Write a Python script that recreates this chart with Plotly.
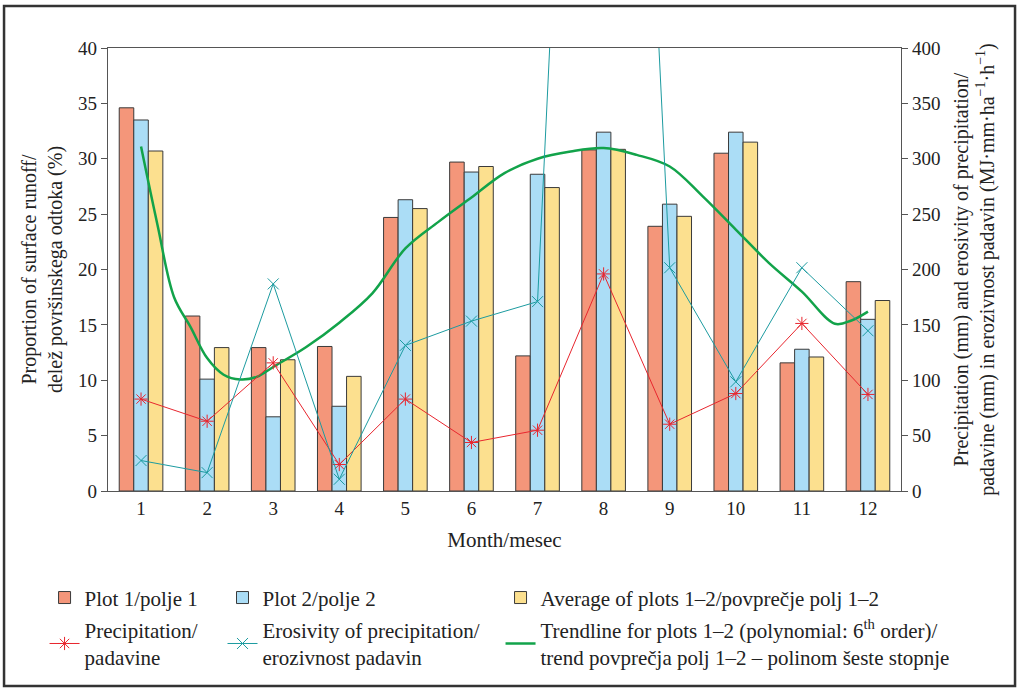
import plotly.graph_objects as go

months = list(range(1, 13))
plot1 = [34.6, 15.8, 12.95, 13.05, 24.7, 29.7, 12.2, 30.8, 23.9, 30.5, 11.57, 18.9]
plot2 = [33.5, 10.1, 6.7, 7.65, 26.3, 28.8, 28.6, 32.4, 25.9, 32.4, 12.8, 15.5]
average = [30.7, 12.95, 11.85, 10.35, 25.5, 29.3, 27.4, 30.85, 24.8, 31.5, 12.1, 17.2]
precipitation = [83, 63, 115.7, 23.9, 83, 43.8, 54.9, 196, 60.3, 88, 151.3, 87.2]
erosivity = [27.5, 16.6, 187, 10.6, 131.5, 153.4, 171, 1420, 201.6, 98.6, 201.6, 144.7]
trend_x = [1, 1.25, 1.5, 1.75, 2, 2.25, 2.5, 2.75, 3, 3.5, 4, 4.5, 5, 5.5, 6, 6.5, 7,
           7.5, 8, 8.5, 9, 9.5, 10, 10.5, 11, 11.5, 11.75, 12]
trend_y = [31.1, 24.0, 17.5, 14.8, 12.0, 10.5, 10.07, 10.3, 11.2, 13.0, 15.2, 17.85,
           21.9, 24.3, 26.5, 28.7, 30.0, 30.65, 30.96, 30.35, 29.3, 26.6, 23.6, 20.6,
           18.0, 15.1, 15.4, 16.2]

FONT = "Liberation Serif"
fig = go.Figure()
edge = dict(color="#3a3a3a", width=1)
fig.add_trace(go.Bar(x=months, y=plot1, name="Plot 1/polje 1", marker=dict(color="#F4967A", line=edge),
                     legend="legend", legendgroup="a"))
fig.add_trace(go.Bar(x=months, y=plot2, name="Plot 2/polje 2", marker=dict(color="#ABDDF6", line=edge),
                     legend="legend2", legendgroup="c"))
fig.add_trace(go.Bar(x=months, y=average, name="Average of plots 1–2/povprečje polj 1–2",
                     marker=dict(color="#FCE08F", line=edge), legend="legend3", legendgroup="e"))
fig.add_trace(go.Scatter(x=months, y=precipitation, yaxis="y2", mode="lines+markers",
                         name="Precipitation/<br>padavine",
                         line=dict(color="#E8262E", width=1),
                         marker=dict(symbol="asterisk-open", size=11, color="#E8262E", line=dict(width=1, color="#E8262E")),
                         legend="legend", legendgroup="b"))
fig.add_trace(go.Scatter(x=months, y=erosivity, yaxis="y2", mode="lines+markers",
                         name="Erosivity of precipitation/<br>erozivnost padavin",
                         line=dict(color="#1C9BA0", width=1),
                         marker=dict(symbol="x-thin-open", size=11, color="#1C9BA0", line=dict(width=1, color="#1C9BA0")),
                         legend="legend2", legendgroup="d"))
fig.add_trace(go.Scatter(x=trend_x, y=trend_y, mode="lines", line=dict(color="#12A34A", width=2.5, shape="spline"),
                         name="Trendline for plots 1–2 (polynomial: 6<sup>th</sup> order)/<br>trend povprečja polj 1–2 – polinom šeste stopnje",
                         legend="legend3", legendgroup="f"))

leg = dict(orientation="v", yanchor="top", xanchor="left", bgcolor="rgba(0,0,0,0)",
           font=dict(family=FONT, size=21, color="#222"), tracegroupgap=2, itemwidth=30)
fig.update_layout(
    width=1017, height=688,
    margin=dict(l=108, r=116, t=48, b=197, autoexpand=False),
    paper_bgcolor="white", plot_bgcolor="white",
    barmode="group", bargap=0.34, bargroupgap=0,
    font=dict(family=FONT, size=18, color="#222"),
    legend=dict(leg, x=-0.080, y=-0.195),
    legend2=dict(leg, x=0.1444, y=-0.195),
    legend3=dict(leg, x=0.495, y=-0.195),
    xaxis=dict(range=[0.5, 12.5], tickvals=months, showline=True, linecolor="#555", linewidth=1.2,
               mirror=True, ticks="", showgrid=False, zeroline=False,
               title=dict(text="Month/mesec", standoff=14, font=dict(family=FONT, size=21)),
               tickfont=dict(size=19)),
    yaxis=dict(range=[0, 40], dtick=5, showline=True, linecolor="#555", linewidth=1.2, ticks="outside",
               ticklen=6, tickcolor="#555", showgrid=False, zeroline=False, tickfont=dict(size=19),
               title=dict(text="Proportion of surface runoff/<br>delež površinskega odtoka (%)", standoff=10,
                          font=dict(family=FONT, size=20))),
    yaxis2=dict(range=[0, 400], dtick=50, overlaying="y", side="right", showline=True, linecolor="#555",
                linewidth=1.2, ticks="outside", ticklen=6, tickcolor="#555", showgrid=False, zeroline=False,
                tickfont=dict(size=19),
                title=dict(text="Precipitation (mm) and erosivity of precipitation/<br>padavine (mm) in erozivnost padavin (MJ·mm·ha<sup>−1</sup>·h<sup>−1</sup>)",
                           standoff=14, font=dict(family=FONT, size=20))),
    shapes=[dict(type="rect", xref="paper", yref="paper", x0=-0.1311, x1=1.1438, y0=-0.440, y1=1.0948,
                 line=dict(color="#333", width=2.5), layer="above")],
)
fig.write_html("out.html", config={"displayModeBar": False},
               post_script="document.body.style.margin='0px';")
